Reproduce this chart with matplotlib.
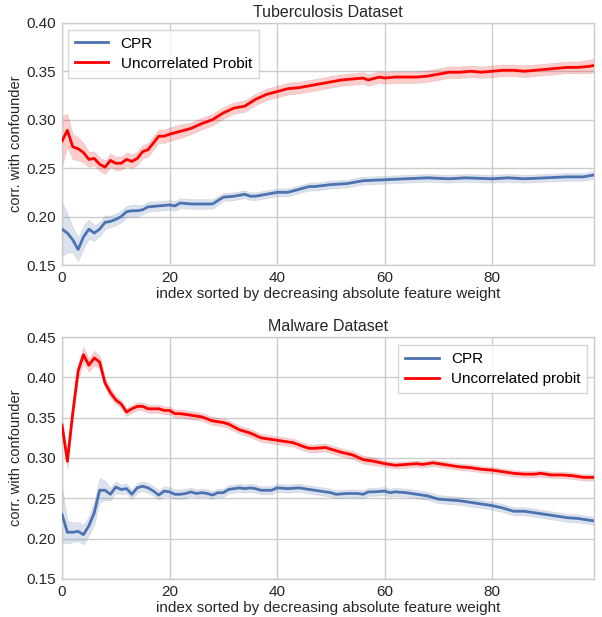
import matplotlib
matplotlib.use("Agg")
import matplotlib.pyplot as plt
import numpy as np

# ---------------- Tuberculosis dataset ----------------
tb_cpr_x = [0, 1, 2, 3, 4, 5, 6, 7, 8, 9, 10, 11, 12, 13, 14, 15, 16, 18, 20, 21, 22, 24, 26, 28,
            30, 32, 34, 35, 36, 38, 40, 42, 44, 46, 47, 50, 53, 56, 60, 64, 68, 72, 75, 80, 83,
            86, 90, 94, 97, 99]
tb_cpr_y = [0.187, 0.183, 0.176, 0.166, 0.179, 0.187, 0.183, 0.187, 0.194, 0.195, 0.197, 0.200,
            0.205, 0.206, 0.206, 0.207, 0.210, 0.211, 0.212, 0.211, 0.214, 0.213, 0.213, 0.213,
            0.220, 0.221, 0.223, 0.221, 0.221, 0.223, 0.225, 0.225, 0.228, 0.231, 0.231, 0.233,
            0.234, 0.237, 0.238, 0.239, 0.240, 0.239, 0.240, 0.239, 0.240, 0.239, 0.240, 0.241,
            0.241, 0.243]
tb_cpr_err = [0.028, 0.020, 0.013, 0.012, 0.012, 0.010, 0.008, 0.007, 0.007, 0.006, 0.006, 0.006,
              0.006, 0.006, 0.006, 0.005, 0.005, 0.005, 0.005, 0.005, 0.005, 0.005, 0.005, 0.005,
              0.004, 0.004, 0.004, 0.004, 0.004, 0.004, 0.004, 0.004, 0.004, 0.004, 0.004, 0.004,
              0.004, 0.004, 0.004, 0.004, 0.004, 0.004, 0.004, 0.004, 0.004, 0.004, 0.004, 0.004,
              0.004, 0.004]

tb_unc_x = [0, 1, 2, 3, 4, 5, 6, 7, 8, 9, 10, 11, 12, 13, 14, 15, 16, 17, 18, 19, 20, 22, 24, 26,
            28, 30, 32, 34, 36, 38, 40, 42, 44, 46, 48, 50, 52, 54, 56, 57, 59, 60, 62, 64, 66,
            68, 70, 72, 74, 76, 78, 80, 82, 84, 86, 88, 90, 92, 94, 96, 98, 99]
tb_unc_y = [0.278, 0.289, 0.272, 0.270, 0.266, 0.259, 0.260, 0.254, 0.251, 0.258, 0.255, 0.255,
            0.259, 0.257, 0.260, 0.267, 0.269, 0.276, 0.283, 0.283, 0.285, 0.288, 0.291, 0.296,
            0.300, 0.307, 0.312, 0.314, 0.321, 0.326, 0.329, 0.332, 0.333, 0.335, 0.337, 0.339,
            0.341, 0.342, 0.343, 0.341, 0.344, 0.343, 0.344, 0.344, 0.344, 0.345, 0.347, 0.349,
            0.349, 0.350, 0.349, 0.350, 0.351, 0.351, 0.350, 0.351, 0.352, 0.353, 0.354, 0.354,
            0.355, 0.356]
tb_unc_err = [0.026, 0.017, 0.013, 0.012, 0.010, 0.008, 0.007, 0.007, 0.007, 0.007, 0.007, 0.007,
              0.007, 0.007, 0.007, 0.007, 0.007, 0.007, 0.007, 0.007, 0.007, 0.007, 0.006, 0.006,
              0.006, 0.006, 0.006, 0.006, 0.006, 0.006, 0.006, 0.006, 0.006, 0.006, 0.006, 0.006,
              0.006, 0.006, 0.006, 0.006, 0.006, 0.006, 0.006, 0.006, 0.006, 0.006, 0.006, 0.006,
              0.006, 0.006, 0.006, 0.006, 0.006, 0.006, 0.006, 0.006, 0.006, 0.006, 0.006, 0.006,
              0.007, 0.007]

# ---------------- Malware dataset ----------------
mw_cpr_x = list(range(0, 41)) + [42, 44, 46, 47, 49, 50, 51, 53, 55, 56, 57, 58, 60, 61, 62, 64,
                                  66, 68, 70, 72, 74, 76, 78, 80, 82, 84, 86, 88, 90, 92, 94, 96,
                                  98, 99]
mw_cpr_y = [0.230, 0.208, 0.208, 0.209, 0.205, 0.216, 0.232, 0.260, 0.260, 0.255, 0.264, 0.261,
            0.262, 0.255, 0.263, 0.265, 0.263, 0.259, 0.254, 0.259, 0.258, 0.255, 0.255, 0.256,
            0.258, 0.256, 0.257, 0.256, 0.254, 0.257, 0.257, 0.261, 0.262, 0.263, 0.262, 0.263,
            0.262, 0.260, 0.260, 0.260, 0.263,
            0.262, 0.263, 0.261, 0.260, 0.258, 0.257, 0.255, 0.256, 0.256, 0.255, 0.258, 0.258,
            0.259, 0.257, 0.258, 0.257, 0.255, 0.253, 0.249, 0.248, 0.247, 0.245, 0.243, 0.241,
            0.238, 0.234, 0.234, 0.232, 0.230, 0.228, 0.226, 0.225, 0.223, 0.222]
mw_cpr_err = [0.035, 0.014, 0.012, 0.012, 0.012, 0.012, 0.014, 0.015, 0.012, 0.008, 0.007, 0.006,
              0.006, 0.006, 0.006, 0.006, 0.006, 0.006, 0.006, 0.006, 0.006, 0.006, 0.006, 0.006,
              0.005, 0.005, 0.005, 0.005, 0.005, 0.005, 0.005, 0.005, 0.005, 0.005, 0.005, 0.005,
              0.005, 0.005, 0.005, 0.005, 0.005,
              0.005, 0.005, 0.005, 0.005, 0.005, 0.005, 0.005, 0.005, 0.005, 0.005, 0.005, 0.005,
              0.005, 0.005, 0.005, 0.005, 0.005, 0.005, 0.005, 0.005, 0.005, 0.005, 0.005, 0.005,
              0.005, 0.005, 0.005, 0.005, 0.005, 0.005, 0.005, 0.005, 0.005, 0.005]

mw_unc_x = list(range(0, 23)) + [24, 26, 28, 30, 31, 33, 35, 37, 39, 41, 43, 45, 46, 47, 49, 50,
                                  52, 54, 56, 58, 60, 62, 64, 66, 67, 69, 70, 72, 74, 76, 78, 80,
                                  82, 84, 86, 88, 89, 91, 93, 95, 97, 99]
mw_unc_y = [0.341, 0.296, 0.356, 0.408, 0.428, 0.415, 0.424, 0.419, 0.393, 0.381, 0.372, 0.367,
            0.357, 0.361, 0.364, 0.364, 0.361, 0.361, 0.361, 0.359, 0.359, 0.355, 0.355,
            0.353, 0.351, 0.346, 0.344, 0.342, 0.335, 0.331, 0.325, 0.323, 0.321, 0.319, 0.314,
            0.312, 0.312, 0.313, 0.311, 0.307, 0.304, 0.298, 0.296, 0.293, 0.291, 0.292, 0.293,
            0.292, 0.294, 0.293, 0.291, 0.289, 0.288, 0.286, 0.285, 0.283, 0.281, 0.280, 0.280,
            0.281, 0.279, 0.279, 0.278, 0.276, 0.276]
mw_unc_err = [0.005, 0.010, 0.008, 0.010, 0.010, 0.008, 0.009, 0.008, 0.006, 0.006, 0.005, 0.005,
              0.005, 0.005, 0.005, 0.005, 0.005, 0.005, 0.005, 0.005, 0.005, 0.005, 0.005,
              0.005, 0.005, 0.005, 0.005, 0.005, 0.005, 0.005, 0.005, 0.005, 0.005, 0.005, 0.005,
              0.005, 0.005, 0.005, 0.005, 0.005, 0.005, 0.005, 0.005, 0.004, 0.004, 0.004, 0.004,
              0.004, 0.004, 0.004, 0.004, 0.004, 0.004, 0.004, 0.004, 0.004, 0.004, 0.004, 0.004,
              0.004, 0.004, 0.004, 0.004, 0.004, 0.004]

BLUE = "#4C72B0"
RED = "#FF0000"

plt.rcParams["font.family"] = ["Liberation Sans", "DejaVu Sans"]

fig = plt.figure(figsize=(6.02, 6.17), dpi=100)
ax1 = fig.add_axes([0.103, 0.5705, 0.884, 0.3925])
ax2 = fig.add_axes([0.103, 0.0616, 0.884, 0.3922])


def band(ax, x, y, e, color, label):
    x = np.asarray(x); y = np.asarray(y); e = np.asarray(e)
    ax.fill_between(x, y - e, y + e, facecolor=color, alpha=0.2,
                    edgecolor="#8c8c8c", linewidth=0.6, zorder=2)
    ax.plot(x, y, color=color, lw=2, label=label, zorder=3)


def style(ax, title, ylim, yticks):
    ax.set_facecolor("white")
    ax.set_xlim(0, 99)
    ax.set_ylim(*ylim)
    ax.set_yticks(yticks)
    ax.set_yticklabels([f"{t:.2f}" for t in yticks])
    ax.set_xticks([0, 20, 40, 60, 80])
    ax.grid(True, color="#cccccc", linewidth=1, zorder=0)
    ax.set_axisbelow(True)
    for s in ax.spines.values():
        s.set_color("#cccccc")
        s.set_linewidth(1)
    ax.tick_params(length=0, labelsize=11, colors="#262626", pad=4)
    ax.set_title(title, fontsize=11.5, color="#262626", pad=4)
    ax.set_xlabel("index sorted by decreasing absolute feature weight", fontsize=11,
                  color="#262626", labelpad=2)
    ax.set_ylabel("corr. with confounder", fontsize=10.5, color="#262626", labelpad=3)


band(ax1, tb_cpr_x, tb_cpr_y, tb_cpr_err, BLUE, "CPR")
band(ax1, tb_unc_x, tb_unc_y, tb_unc_err, RED, "Uncorrelated Probit")
style(ax1, "Tuberculosis Dataset", (0.15, 0.40), [0.15, 0.20, 0.25, 0.30, 0.35, 0.40])
leg1 = ax1.legend(loc="upper left", fontsize=11, frameon=True, fancybox=False,
                  borderpad=0.45, handlelength=2.2, handletextpad=0.8, labelspacing=0.4,
                  borderaxespad=0, bbox_to_anchor=(0.011, 0.971))
leg1.get_frame().set_edgecolor("#cccccc")

band(ax2, mw_cpr_x, mw_cpr_y, mw_cpr_err, BLUE, "CPR")
band(ax2, mw_unc_x, mw_unc_y, mw_unc_err, RED, "Uncorrelated probit")
style(ax2, "Malware Dataset", (0.15, 0.45), [0.15, 0.20, 0.25, 0.30, 0.35, 0.40, 0.45])
leg2 = ax2.legend(loc="upper right", fontsize=11, frameon=True, fancybox=False,
                  borderpad=0.45, handlelength=2.2, handletextpad=0.8, labelspacing=0.4,
                  borderaxespad=0, bbox_to_anchor=(0.987, 0.967))
leg2.get_frame().set_edgecolor("#cccccc")

fig.savefig("out.png", dpi=100)
